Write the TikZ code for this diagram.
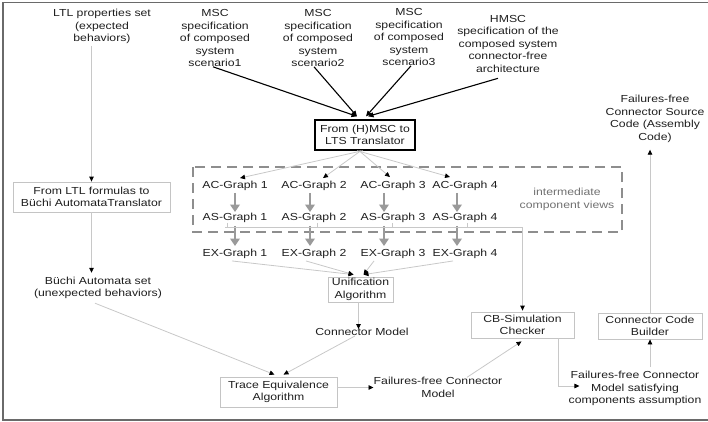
\documentclass[tikz,border=0pt]{standalone}
\usepackage{fontspec}
\setmainfont[FakeStretch=1.2]{Liberation Sans}
\usetikzlibrary{arrows.meta}
\definecolor{ink}{HTML}{1E1E1E}
\definecolor{lightline}{HTML}{C8C8C8}
\definecolor{boxline}{HTML}{C4C4C4}
\definecolor{flowgray}{HTML}{9A9A9A}
\definecolor{dashgray}{HTML}{8E8E8E}
\definecolor{framegray}{HTML}{6A6A6A}
\definecolor{viewgray}{HTML}{707070}
\tikzset{
  txt/.style={inner sep=0pt, align=center, text=ink,
    font=\fontsize{10.2}{12.5}\selectfont},
  lbox/.style={txt, draw=boxline, line width=0.8pt},
  dbox/.style={txt, draw=black, line width=1.3pt},
  thinarrow/.style={draw=lightline, line width=0.8pt,
    -{Triangle[length=5pt,width=4.5pt,color=black]}},
  thinline/.style={draw=lightline, line width=0.8pt},
  darkarrow/.style={draw=black, line width=1.1pt,
    -{Triangle[length=5.5pt,width=5pt]}},
  grayarrow/.style={draw=flowgray, line width=2.4pt,
    -{Triangle[length=7.5pt,width=9.5pt]}},
}
\begin{document}
\begin{tikzpicture}[x=1pt,y=-1pt]
\useasboundingbox (0,0) rectangle (708,422);
\clip (0,0) rectangle (708,422);
% outer frame
\draw[framegray, line width=1.5pt] (3,2.5) rectangle (715,420);

% top row of specifications
\node[txt] (ltl) at (102,26.5) {LTL properties set\\(expected\\behaviors)};
\node[txt] (msc1) at (215,38) {MSC\\specification\\of composed\\system\\scenario1};
\node[txt] (msc2) at (318,38) {MSC\\specification\\of composed\\system\\scenario2};
\node[txt] (msc3) at (409,37) {MSC\\specification\\of composed\\system\\scenario3};
\node[txt] (hmsc) at (508,43.5) {HMSC\\specification of the\\composed system\\connector-free\\architecture};

% translators
\node[dbox, minimum width=100pt, minimum height=30pt] (trans) at (365,135) {From (H)MSC to\\LTS Translator};
\node[lbox, minimum width=157pt, minimum height=30pt] (ltlbox) at (91.5,197) {From LTL formulas to\\Büchi AutomataTranslator};
\node[txt] (buchi) at (98,288) {Büchi Automata set\\(unexpected behaviors)};

% intermediate component views
\draw[dashgray, line width=1.8pt, dash pattern=on 10pt off 6pt] (193,167) rectangle (622,232);
\node[txt, text=viewgray] (views) at (567,199.5) {intermediate\\component views};

\foreach \i/\x in {1/235,2/314,3/393,4/465}{
  \node[txt] (ac\i) at (\x,186) {AC-Graph \i};
  \node[txt] (as\i) at (\x,218) {AS-Graph \i};
  \node[txt] (ex\i) at (\x,254) {EX-Graph \i};
}

% algorithms and results
\node[lbox, minimum width=65pt, minimum height=25pt] (unif) at (360.5,289.5) {Unification\\Algorithm};
\node[txt] (conn) at (362,332) {Connector Model};
\node[lbox, minimum width=117pt, minimum height=30pt] (trace) at (278.5,392) {Trace Equivalence\\Algorithm};
\node[txt] (ffcm) at (438,387.5) {Failures-free Connector\\Model};
\node[lbox, minimum width=103pt, minimum height=26pt] (cbsim) at (522.5,325) {CB-Simulation\\Checker};
\node[txt] (ffsat) at (635,388.5) {Failures-free Connector\\Model satisfying\\components assumption};
\node[lbox, minimum width=104pt, minimum height=26pt] (builder) at (650,326) {Connector Code\\Builder};
\node[txt] (source) at (655,119) {Failures-free\\Connector Source\\Code (Assembly\\Code)};

% LTL branch
\draw[thinarrow] ([yshift=-2pt]ltl.south -| ltlbox.north) -- (ltlbox.north);
\draw[thinarrow] (ltlbox.south) -- ([yshift=4pt]ltlbox.south |- buchi.north);
\draw[thinarrow] ([xshift=-3pt,yshift=-4pt]buchi.south) -- ([xshift=-4pt,yshift=2pt]trace.north);

% scenarios into the translator
\draw[darkarrow] ([xshift=-2pt]msc1.south) -- ([xshift=-8pt,yshift=3pt]trans.north);
\draw[darkarrow] ([xshift=-4pt]msc2.south) -- ([xshift=-8pt,yshift=3pt]trans.north);
\draw[darkarrow] ([xshift=2pt]msc3.south) -- ([xshift=1pt,yshift=3pt]trans.north);
\draw[darkarrow] ([xshift=-10pt,yshift=-6pt]hmsc.south) -- ([xshift=3pt,yshift=3pt]trans.north);

% translator into the AC graphs
\draw[thinarrow] ([xshift=-2pt]trans.south) -- ([xshift=5pt,yshift=3pt]ac1.north);
\draw[thinarrow] ([xshift=-4pt]trans.south) -- ([xshift=9pt,yshift=3pt]ac2.north);
\draw[thinarrow] ([xshift=-6pt]trans.south) -- ([xshift=-3pt,yshift=4pt]ac3.north);
\draw[thinarrow] ([xshift=-8pt]trans.south) -- ([xshift=-15pt,yshift=4pt]ac4.north);

% AC -> AS -> EX flow
\foreach \i/\s in {1/0,2/-4,3/-9,4/-8}{
  \draw[grayarrow] ([xshift=\s pt,yshift=-2pt]ac\i.south) -- ([xshift=\s pt,yshift=1pt]as\i.north);
  \draw[grayarrow] ([xshift=\s pt,yshift=-3pt]as\i.south) -- ([xshift=\s pt,yshift=3pt]ex\i.north);
}

% AS graphs gathered towards the simulation checker
\coordinate (busL) at (225,227);
\coordinate (busR) at (cbsim.north |- busL);
\foreach \i/\s in {1/-8,2/3,3/-1,4/2}{
  \draw[thinline] ([xshift=\s pt]as\i.south) -- ([xshift=\s pt]as\i.south |- busL);
}
\draw[thinarrow] (busL) -- (busR) -- ([yshift=1pt]cbsim.north);

% EX graphs into unification
\draw[thinarrow] ([xshift=-3pt,yshift=-2pt]ex1.south) -- ([xshift=-7pt,yshift=2pt]unif.north);
\draw[thinarrow] ([xshift=-8pt,yshift=-2pt]ex2.south) -- ([xshift=-7pt,yshift=2pt]unif.north);
\draw[thinarrow] ([xshift=-19pt,yshift=-2pt]ex3.south) -- ([xshift=3pt,yshift=2pt]unif.north);
\draw[thinarrow] ([xshift=-12pt,yshift=-2pt]ex4.south) -- ([xshift=3pt,yshift=2pt]unif.north);

% unification to trace equivalence
\draw[thinarrow] ([xshift=-2pt]unif.south) -- ([xshift=-2pt,yshift=-1pt]unif.south |- conn.north);
\draw[thinarrow] ([xshift=-7pt]conn.south) -- ([xshift=5pt,yshift=2pt]trace.north);
\draw[thinarrow] (trace.east |- ffcm.west) -- (ffcm.west);

% simulation check and code generation
\draw[thinarrow] ([xshift=29pt]ffcm.north) -- ([xshift=-1pt,yshift=-3pt]cbsim.south);
\draw[thinarrow] ([xshift=36pt]cbsim.south) |- ([xshift=11pt,yshift=2.5pt]ffsat.west);
\draw[thinarrow] ([yshift=4pt]ffsat.north -| builder.south) -- (builder.south);
\draw[thinarrow] (builder.north) -- ([yshift=-7pt]builder.north |- source.south);
\end{tikzpicture}
\end{document}
